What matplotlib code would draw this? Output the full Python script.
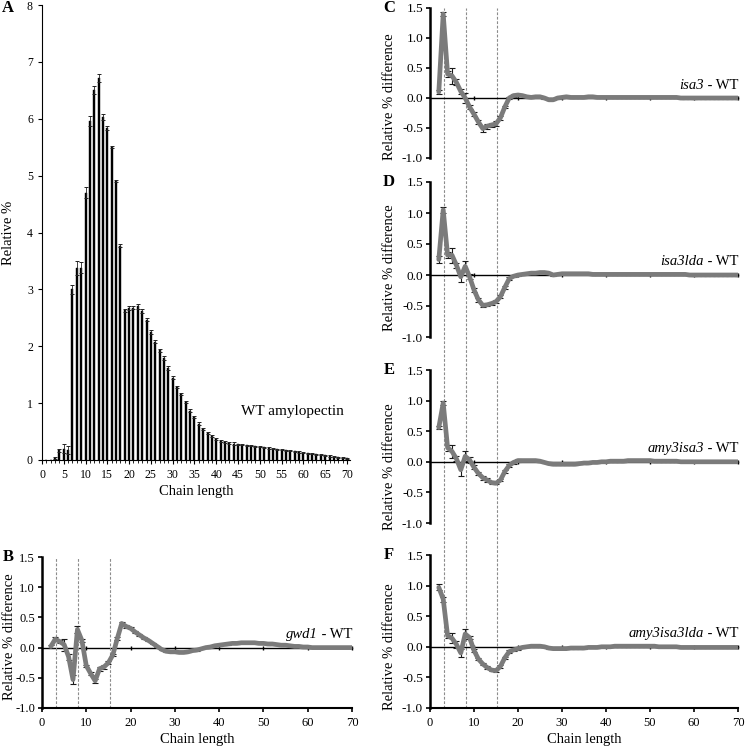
import matplotlib.pyplot as plt
from matplotlib.ticker import FormatStrFormatter, MultipleLocator

plt.rcParams['font.family'] = ['Liberation Serif', 'DejaVu Serif']
plt.rcParams['axes.unicode_minus'] = False

# ---- data ----
# panel A: relative % of each chain length (DP 1..70)
dp_a = list(range(1, 71))
rel_a = [0.00, 0.00, 0.03, 0.17, 0.20, 0.18, 3.00, 3.38, 3.38, 4.70,
         5.96, 6.50, 6.72, 6.03, 5.84, 5.50, 4.90, 3.77, 2.63, 2.67,
         2.68, 2.70, 2.62, 2.47, 2.25, 2.08, 1.93, 1.79, 1.62, 1.45,
         1.28, 1.16, 1.02, 0.87, 0.75, 0.64, 0.55, 0.48, 0.42, 0.37,
         0.34, 0.32, 0.30, 0.29, 0.28, 0.27, 0.26, 0.25, 0.24, 0.23,
         0.22, 0.21, 0.20, 0.19, 0.18, 0.17, 0.16, 0.15, 0.14, 0.13,
         0.12, 0.11, 0.10, 0.09, 0.08, 0.07, 0.06, 0.05, 0.04, 0.03]
err_a = [0.00, 0.00, 0.02, 0.03, 0.08, 0.07, 0.08, 0.12, 0.10, 0.10,
         0.08, 0.07, 0.07, 0.05, 0.04, 0.02, 0.02, 0.02, 0.02, 0.03,
         0.03, 0.04, 0.03, 0.03, 0.03, 0.03, 0.03, 0.03, 0.03, 0.03,
         0.02, 0.02, 0.02, 0.02, 0.02, 0.02, 0.02, 0.02, 0.02, 0.02,
         0.02, 0.02, 0.02, 0.02, 0.01, 0.01, 0.01, 0.01, 0.01, 0.01,
         0.01, 0.01, 0.01, 0.01, 0.01, 0.01, 0.01, 0.01, 0.01, 0.01,
         0.01, 0.01, 0.01, 0.01, 0.01, 0.01, 0.01, 0.01, 0.01, 0.01]

# panels B-F: mutant minus WT (DP 2..70)
dp = list(range(2, 71))
gwd1 = [0.02, 0.14, 0.10, 0.05, -0.15, -0.53, 0.30, 0.12, -0.30, -0.43,
        -0.55, -0.35, -0.32, -0.25, -0.12, 0.15, 0.40, 0.35, 0.32, 0.26,
        0.21, 0.16, 0.12, 0.07, 0.02, -0.03, -0.06, -0.07, -0.07, -0.08,
        -0.08, -0.07, -0.05, -0.04, -0.02, 0.00, 0.01, 0.03, 0.04, 0.05,
        0.06, 0.07, 0.07, 0.08, 0.08, 0.08, 0.08, 0.07, 0.07, 0.06,
        0.06, 0.05, 0.04, 0.04, 0.03, 0.02, 0.02, 0.01, 0.01, 0.00,
        0.00, 0.00, 0.00, 0.00, 0.00, 0.00, 0.00, 0.00, 0.00]
isa3 = [0.10, 1.40, 0.40, 0.37, 0.26, 0.11, 0.00, -0.15, -0.27, -0.40,
        -0.51, -0.47, -0.45, -0.43, -0.33, -0.15, 0.00, 0.04, 0.05, 0.04,
        0.02, 0.01, 0.02, 0.02, 0.00, -0.03, -0.03, 0.00, 0.01, 0.02,
        0.01, 0.01, 0.01, 0.01, 0.02, 0.02, 0.01, 0.01, 0.01, 0.01,
        0.01, 0.01, 0.01, 0.01, 0.01, 0.01, 0.01, 0.01, 0.01, 0.01,
        0.01, 0.01, 0.01, 0.01, 0.01, 0.00, 0.00, 0.00, 0.00, 0.00,
        0.00, 0.00, 0.00, 0.00, 0.00, 0.00, 0.00, 0.00, 0.00]
isa3lda = [0.25, 1.05, 0.32, 0.32, 0.16, -0.03, 0.14, -0.03, -0.24, -0.40,
           -0.49, -0.48, -0.46, -0.43, -0.35, -0.20, -0.06, -0.02, 0.00, 0.01,
           0.02, 0.03, 0.03, 0.04, 0.04, 0.03, 0.00, 0.01, 0.02, 0.02,
           0.02, 0.02, 0.02, 0.02, 0.02, 0.01, 0.01, 0.01, 0.01, 0.01,
           0.01, 0.01, 0.01, 0.01, 0.01, 0.01, 0.01, 0.01, 0.01, 0.01,
           0.01, 0.01, 0.01, 0.01, 0.01, 0.01, 0.01, 0.00, 0.00, 0.00,
           0.00, 0.00, 0.00, 0.00, 0.00, 0.00, 0.00, 0.00, 0.00]
amy3isa3 = [0.56, 0.96, 0.23, 0.17, 0.05, -0.13, 0.09, 0.03, -0.09, -0.19,
            -0.26, -0.30, -0.34, -0.35, -0.30, -0.16, -0.06, -0.01, 0.02, 0.02,
            0.02, 0.02, 0.02, 0.01, -0.01, -0.03, -0.04, -0.04, -0.04, -0.04,
            -0.04, -0.04, -0.03, -0.02, -0.02, -0.01, -0.01, 0.00, 0.00, 0.01,
            0.01, 0.01, 0.01, 0.02, 0.02, 0.02, 0.02, 0.02, 0.02, 0.01,
            0.01, 0.01, 0.01, 0.01, 0.01, 0.00, 0.00, 0.00, 0.00, 0.00,
            0.00, 0.00, 0.00, 0.00, 0.00, 0.00, 0.00, 0.00, 0.00]
amy3isa3lda = [0.97, 0.78, 0.18, 0.14, 0.04, -0.10, 0.21, 0.15, -0.06, -0.20,
               -0.28, -0.34, -0.38, -0.39, -0.32, -0.18, -0.08, -0.05, -0.03, -0.01,
               0.00, 0.01, 0.01, 0.01, 0.00, -0.02, -0.03, -0.03, -0.03, -0.03,
               -0.02, -0.02, -0.02, -0.02, -0.01, -0.01, -0.01, 0.00, 0.00, 0.00,
               0.01, 0.01, 0.01, 0.01, 0.01, 0.01, 0.01, 0.01, 0.01, 0.01,
               0.00, 0.00, 0.00, 0.00, 0.00, -0.01, -0.01, -0.01, -0.01, -0.01,
               -0.01, -0.01, -0.01, -0.01, -0.01, -0.01, -0.01, -0.01, -0.01]

# error bars, read for the first 19 chain lengths, tiny afterwards
tail = [0.01] * 50
err_gwd1 = [0.02, 0.03, 0.03, 0.10, 0.05, 0.08, 0.05, 0.03, 0.02, 0.03,
            0.03, 0.03, 0.03, 0.02, 0.02, 0.02, 0.02, 0.02, 0.02] + tail
err_isa3 = [0.03, 0.03, 0.05, 0.13, 0.05, 0.04, 0.08, 0.03, 0.03, 0.03,
            0.05, 0.04, 0.03, 0.04, 0.03, 0.02, 0.02, 0.02, 0.02] + tail
err_isa3lda = [0.05, 0.05, 0.05, 0.12, 0.04, 0.08, 0.08, 0.04, 0.03, 0.03,
               0.03, 0.02, 0.02, 0.02, 0.02, 0.02, 0.02, 0.02, 0.02] + tail
err_amy3isa3 = [0.03, 0.03, 0.05, 0.10, 0.04, 0.10, 0.08, 0.05, 0.03, 0.03,
                0.03, 0.03, 0.02, 0.02, 0.02, 0.02, 0.02, 0.02, 0.02] + tail
err_amy3isa3lda = [0.05, 0.04, 0.04, 0.08, 0.06, 0.07, 0.08, 0.03, 0.03, 0.02,
                   0.02, 0.02, 0.02, 0.02, 0.02, 0.02, 0.02, 0.02, 0.02] + tail

marks = [3.2, 8.2, 15.3]  # dashed guide lines

W, H = 745, 749
fig = plt.figure(figsize=(W / 100, H / 100), dpi=100)


def box(x0, y0, x1, y1):
    # pixel box with top-left origin -> figure fraction
    return [x0 / W, 1 - y1 / H, (x1 - x0) / W, (y1 - y0) / H]


# ---- panel A ----
ax = fig.add_axes(box(42, 5, 350, 460))
ax.bar(dp_a, rel_a, width=0.46, color='black', edgecolor='black', linewidth=0.3,
       yerr=err_a,
       error_kw=dict(ecolor='#222222', elinewidth=0.6, capsize=1.6, capthick=0.7))
ax.set_xlim(0, 70.7)
ax.set_ylim(0, 8)
ax.set_xticks(range(0, 71, 5))
ax.xaxis.set_minor_locator(MultipleLocator(1))
ax.set_yticks(range(0, 9))
ax.spines['top'].set_visible(False)
ax.spines['right'].set_visible(False)
ax.tick_params(labelsize=8.5, length=3, width=0.8)
ax.tick_params(which='minor', length=2, width=0.6)
ax.set_xlabel('Chain length', fontsize=10.5, labelpad=3)
ax.set_ylabel('Relative %', fontsize=10.5)
ax.yaxis.set_label_coords(-27 / 308, 0.5)
ax.text(57.6, 0.85, 'WT amylopectin', fontsize=11, ha='center', va='center')
fig.text(8 / W, 1 - 8 / H, 'A', fontsize=12, weight='bold', ha='center', va='center')


def diff_panel(rect, y, err, name, letter, letter_x, bottom_axis, guides,
               ytick_size, label_x, label_y):
    ax = fig.add_axes(box(*rect))
    ax.set_facecolor('none')
    if guides:
        for m in marks:
            ax.axvline(m, color='#8c8c8c', lw=0.8, ls=(0, (2.5, 1.5)), zorder=1)
    ax.errorbar(dp, y, yerr=err, fmt='none', ecolor='#1a1a1a', elinewidth=0.8,
                capsize=2, capthick=0.8, zorder=2)
    ax.plot(dp, y, color='#7b7b7b', lw=3.4, solid_joinstyle='round',
            solid_capstyle='round', zorder=3)
    ax.set_xlim(0, 70)
    ax.set_ylim(-1.0, 1.5)
    ax.set_yticks([-1.0, -0.5, 0.0, 0.5, 1.0, 1.5])
    ax.yaxis.set_major_formatter(FormatStrFormatter('%.1f'))
    ax.spines['top'].set_visible(False)
    ax.spines['right'].set_visible(False)
    ax.spines['left'].set_linewidth(1.8)
    ax.tick_params(axis='y', labelsize=ytick_size, length=3, width=1.2, pad=2)
    # zero line with its own ticks
    zero = ax.secondary_xaxis(0.4)
    zero.set_xticks(range(10, 71, 10))
    zero.set_xticklabels([])
    zero.tick_params(direction='inout', length=3, width=1)
    zero.spines['bottom'].set_linewidth(1)
    zero.spines['top'].set_linewidth(1)
    if bottom_axis:
        ax.spines['bottom'].set_linewidth(1.5)
        ax.set_xticks(range(0, 71, 10))
        ax.tick_params(axis='x', labelsize=9, length=3, width=1.2)
        ax.set_xlabel('Chain length', fontsize=10.5, labelpad=3)
    else:
        ax.spines['bottom'].set_visible(False)
        ax.set_xticks([])
    ax.set_ylabel('Relative % difference', fontsize=10.5)
    # coordinate is the right edge of the rotated label
    ax.yaxis.set_label_coords(label_x, label_y)
    # "name - WT": genotype in italics, the rest upright
    t = ax.text(70, 0.21, ' - WT', fontsize=10.5, ha='right', va='center')
    ax.annotate(name, xy=(0, 0.5), xycoords=t, fontsize=10.5, style='italic',
                ha='right', va='center')
    fig.text(letter_x / W, 1 - rect[1] / H, letter, fontsize=12,
             weight='bold', ha='center', va='center')
    return ax


# dashed guides running through C-F
guide = fig.add_axes(box(430, 8, 738, 708), zorder=0)
guide.set_xlim(0, 70)
guide.axis('off')
for m in marks:
    guide.axvline(m, color='#8c8c8c', lw=0.8, ls=(0, (2.5, 1.5)))

diff_panel((42, 557, 352, 708), gwd1, err_gwd1, 'gwd1', 'B', 8, True, True,
           9, -26 / 310, 0.47)
diff_panel((430, 8, 738, 158), isa3, err_isa3, 'isa3', 'C', 389, False, False,
           9.5, -34 / 308, 0.41)
diff_panel((430, 182, 738, 337), isa3lda, err_isa3lda, 'isa3lda', 'D', 389, False, False,
           9.5, -34 / 308, 0.45)
diff_panel((430, 370, 738, 523), amy3isa3, err_amy3isa3, 'amy3isa3', 'E', 389, False, False,
           9.5, -34 / 308, 0.37)
diff_panel((430, 555, 738, 708), amy3isa3lda, err_amy3isa3lda, 'amy3isa3lda', 'F', 389, True, False,
           9.5, -34 / 308, 0.40)

fig.savefig('out.png', dpi=100)
